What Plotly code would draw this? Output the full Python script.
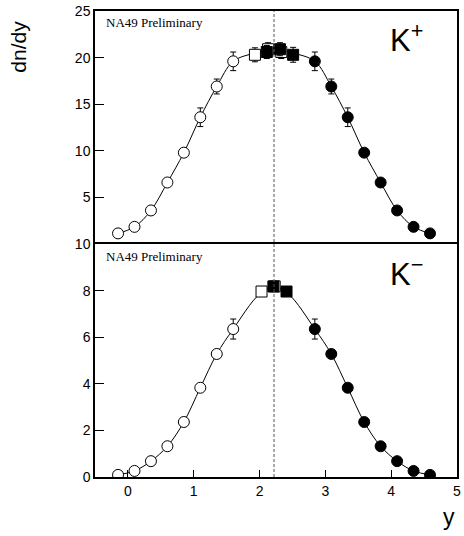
import plotly.graph_objects as go
from plotly.subplots import make_subplots

# ---- data ----
mid_y = 2.22
# K+ (top panel)
kp_open_x = [-0.15, 0.10, 0.35, 0.60, 0.85, 1.10, 1.35, 1.60]
kp_open_y = [1.14, 1.84, 3.6, 6.6, 9.8, 13.6, 16.9, 19.6]
kp_open_e = [0, 0, 0, 0, 0, 1.0, 0.8, 1.0]
kp_fill_x = [2.84, 3.09, 3.34, 3.59, 3.84, 4.09, 4.34, 4.59]
kp_fill_y = [19.6, 16.9, 13.6, 9.8, 6.6, 3.6, 1.84, 1.14]
kp_fill_e = [1.0, 0.8, 1.0, 0, 0, 0, 0, 0]
kp_osq_x = [1.93, 2.13, 2.33]
kp_osq_y = [20.3, 20.9, 20.6]
kp_osq_e = [0.75, 0.7, 0.7]
kp_fsq_x = [2.11, 2.31, 2.51]
kp_fsq_y = [20.6, 20.9, 20.3]
kp_fsq_e = [0.7, 0.7, 0.8]
kp_fit_x = [-0.15, 0.10, 0.35, 0.60, 0.85, 1.10, 1.35, 1.60, 1.94, 2.22, 2.50,
            2.84, 3.09, 3.34, 3.59, 3.84, 4.09, 4.34, 4.59]
kp_fit_y = [1.14, 1.84, 3.6, 6.6, 9.8, 13.6, 16.9, 19.6, 20.5, 20.9, 20.5,
            19.6, 16.9, 13.6, 9.8, 6.6, 3.6, 1.84, 1.14]

# K- (bottom panel)
km_open_x = [-0.15, 0.10, 0.35, 0.60, 0.85, 1.10, 1.35, 1.60]
km_open_y = [0.09, 0.26, 0.68, 1.32, 2.36, 3.83, 5.28, 6.35]
km_open_e = [0, 0, 0, 0, 0, 0, 0, 0.43]
km_fill_x = [2.84, 3.09, 3.34, 3.59, 3.84, 4.09, 4.34, 4.59]
km_fill_y = [6.35, 5.28, 3.83, 2.36, 1.32, 0.68, 0.26, 0.09]
km_fill_e = [0.43, 0, 0, 0, 0, 0, 0, 0]
km_osq_x = [2.03, 2.23]
km_osq_y = [7.96, 8.18]
km_fsq_x = [2.21, 2.41]
km_fsq_y = [8.18, 7.96]
km_fit_x = [-0.15, 0.10, 0.35, 0.60, 0.85, 1.10, 1.35, 1.60, 2.00, 2.22, 2.44,
            2.84, 3.09, 3.34, 3.59, 3.84, 4.09, 4.34, 4.59]
km_fit_y = [0.09, 0.26, 0.68, 1.32, 2.36, 3.83, 5.28, 6.35, 7.85, 8.15, 7.85,
            6.35, 5.28, 3.83, 2.36, 1.32, 0.68, 0.26, 0.09]

top_ticks = [5, 10, 15, 20, 25]
bot_ticks = [0, 2, 4, 6, 8, 10]
x_ticks = [0, 1, 2, 3, 4, 5]

fig = make_subplots(rows=2, cols=1, shared_xaxes=True, vertical_spacing=0)

MS = 11


def err(vals):
    return dict(type="data", array=vals, visible=True, color="black",
                thickness=1, width=3)


def add_panel(row, fx, fy, open_x, open_y, open_e, fill_x, fill_y, fill_e,
              osq_x, osq_y, osq_e, fsq_x, fsq_y, fsq_e):
    fig.add_trace(go.Scatter(x=fx, y=fy, mode="lines", line_shape="spline",
                             line=dict(color="black", width=1),
                             hoverinfo="skip", showlegend=False), row=row, col=1)
    fig.add_trace(go.Scatter(x=open_x, y=open_y, mode="markers", error_y=err(open_e),
                             marker=dict(symbol="circle", size=MS, color="white",
                                         line=dict(color="black", width=1)),
                             showlegend=False), row=row, col=1)
    fig.add_trace(go.Scatter(x=fill_x, y=fill_y, mode="markers", error_y=err(fill_e),
                             marker=dict(symbol="circle", size=MS, color="black",
                                         line=dict(color="black", width=1)),
                             showlegend=False), row=row, col=1)
    fig.add_trace(go.Scatter(x=osq_x, y=osq_y, mode="markers", error_y=err(osq_e),
                             marker=dict(symbol="square", size=MS, color="white",
                                         line=dict(color="black", width=1)),
                             showlegend=False), row=row, col=1)
    fig.add_trace(go.Scatter(x=fsq_x, y=fsq_y, mode="markers", error_y=err(fsq_e),
                             marker=dict(symbol="square", size=MS, color="black",
                                         line=dict(color="black", width=1)),
                             showlegend=False), row=row, col=1)


add_panel(1, kp_fit_x, kp_fit_y, kp_open_x, kp_open_y, kp_open_e,
          kp_fill_x, kp_fill_y, kp_fill_e, kp_osq_x, kp_osq_y, kp_osq_e,
          kp_fsq_x, kp_fsq_y, kp_fsq_e)
add_panel(2, km_fit_x, km_fit_y, km_open_x, km_open_y, km_open_e,
          km_fill_x, km_fill_y, km_fill_e, km_osq_x, km_osq_y, [0, 0],
          km_fsq_x, km_fsq_y, [0, 0])

axfont = dict(family="Liberation Sans, Arial, sans-serif", size=14, color="black")

fig.update_xaxes(range=[-0.5, 5], showgrid=False, zeroline=False, showline=True,
                 linecolor="black", linewidth=1.5)
fig.update_xaxes(ticks="", showticklabels=False, side="top", mirror=False,
                 row=1, col=1)
fig.update_xaxes(ticks="inside", ticklen=7, tickwidth=1, tickcolor="black",
                 mirror=True, tickvals=x_ticks, tickfont=axfont, row=2, col=1)
fig.update_yaxes(showgrid=False, zeroline=False, showline=True, linecolor="black",
                 linewidth=1.5, mirror=True, ticks="inside", ticklen=9,
                 tickwidth=1, tickcolor="black", tickfont=axfont)
fig.update_yaxes(range=[0, 25], tickvals=top_ticks, row=1, col=1)
fig.update_yaxes(range=[0, 10], tickvals=bot_ticks, row=2, col=1)

fig.add_shape(type="line", xref="x", yref="paper", x0=mid_y, x1=mid_y, y0=0, y1=1,
              line=dict(color="#555555", width=1, dash="3px,2px"))

ann = []
serif = dict(family="Liberation Serif, Times New Roman, serif", size=13, color="black")
ann.append(dict(text="NA49 Preliminary", xref="paper", yref="paper",
                x=(104 - 95) / 366, y=(477 - 21) / 468, xanchor="left",
                yanchor="middle", showarrow=False, font=serif))
ann.append(dict(text="NA49 Preliminary", xref="paper", yref="paper",
                x=(104 - 95) / 366, y=(477 - 256) / 468, xanchor="left",
                yanchor="middle", showarrow=False, font=serif))
kfont = dict(family="Liberation Sans, Arial, sans-serif", size=31, color="black")
ann.append(dict(text="K<sup>+</sup>", xref="paper", yref="paper",
                x=(391 - 95) / 366, y=(477 - 36) / 468, xanchor="left",
                yanchor="middle", showarrow=False, font=kfont))
ann.append(dict(text="K<sup>−</sup>", xref="paper", yref="paper",
                x=(391 - 95) / 366, y=(477 - 271) / 468, xanchor="left",
                yanchor="middle", showarrow=False, font=kfont))
ann.append(dict(text="dn/dy", xref="paper", yref="paper",
                x=(18 - 95) / 366, y=(477 - 45) / 468, xanchor="center",
                yanchor="middle", textangle=-90, showarrow=False,
                font=dict(family="Liberation Sans, Arial, sans-serif", size=21, color="black")))
ann.append(dict(text="y", xref="paper", yref="paper",
                x=(453 - 95) / 366, y=(477 - 517) / 468, xanchor="center",
                yanchor="middle", showarrow=False,
                font=dict(family="Liberation Sans, Arial, sans-serif", size=23, color="black")))
fig.update_layout(annotations=ann)

fig.update_layout(width=464, height=536, margin=dict(l=95, r=3, t=9, b=59),
                  plot_bgcolor="white", paper_bgcolor="white", showlegend=False)

fig.write_html("out.html", config={"displayModeBar": False},
               post_script="document.body.style.margin='0';")
